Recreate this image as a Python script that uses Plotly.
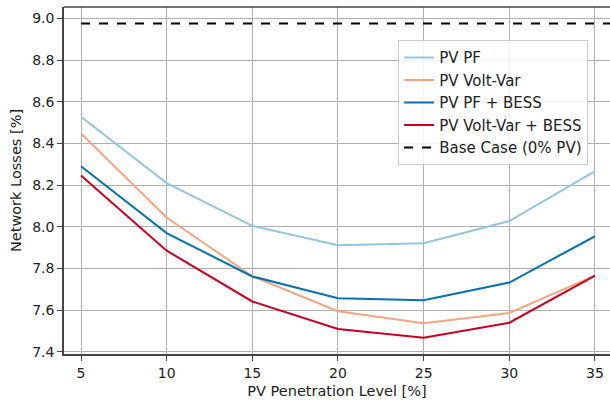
import plotly.graph_objects as go

x_levels = [5, 10, 15, 20, 25, 30, 35]
pv_pf = [8.528, 8.210, 8.005, 7.912, 7.922, 8.028, 8.268]
pv_vv = [8.448, 8.045, 7.763, 7.595, 7.537, 7.587, 7.766]
pv_pf_bess = [8.291, 7.970, 7.762, 7.658, 7.648, 7.733, 7.955]
pv_vv_bess = [8.246, 7.886, 7.642, 7.510, 7.468, 7.540, 7.766]
base_x = [5, 36.5]
base_case = [8.976, 8.976]

names = ["PV PF", "PV Volt-Var", "PV PF + BESS", "PV Volt-Var + BESS"]
colors = ["#92c5de", "#f4a582", "#0571b0", "#ca0020"]
series = [pv_pf, pv_vv, pv_pf_bess, pv_vv_bess]

fig = go.Figure()
for n, c, s in zip(names, colors, series):
    fig.add_trace(go.Scatter(x=x_levels, y=s, mode="lines", name=n,
                             line=dict(color=c, width=2)))
fig.add_trace(go.Scatter(x=base_x, y=base_case, mode="lines", name="Base Case (0% PV)",
                         line=dict(color="black", width=2, dash="dash")))

font = "DejaVu Sans, sans-serif"
fig.update_layout(
    width=610, height=400,
    margin=dict(l=64, r=0, t=7, b=46),
    paper_bgcolor="white", plot_bgcolor="white",
    font=dict(family=font, size=14, color="#222"),
    showlegend=True,
    legend=dict(x=0.612, y=0.904, xanchor="left", yanchor="top",
                bgcolor="rgba(255,255,255,0.85)", bordercolor="#cccccc", borderwidth=1,
                font=dict(family=font, size=15, color="#222"),
                tracegroupgap=0, itemwidth=30),
    xaxis=dict(range=[4.008, 35.876], tickvals=x_levels, showgrid=True,
               gridcolor="#b0b0b0", gridwidth=1, zeroline=False,
               showline=True, linecolor="#444", linewidth=1.5,
               ticks="outside", ticklen=5, tickcolor="#444",
               tickfont=dict(family=font, size=14),
               title=dict(text="PV Penetration Level [%]", standoff=6,
                          font=dict(family=font, size=14.5))),
    yaxis=dict(range=[7.39, 9.055], tickvals=[7.4, 7.6, 7.8, 8.0, 8.2, 8.4, 8.6, 8.8, 9.0],
               tickformat=".1f", showgrid=True, gridcolor="#b0b0b0", gridwidth=1,
               zeroline=False, showline=True, linecolor="#444", linewidth=1.5,
               ticks="outside", ticklen=5, tickcolor="#444",
               tickfont=dict(family=font, size=14),
               title=dict(text="Network Losses [%]", standoff=7,
                          font=dict(family=font, size=14.5))),
    shapes=[dict(type="line", xref="paper", yref="paper", x0=0, x1=1, y0=1, y1=1,
                 line=dict(color="#444", width=1.5))],
)
fig.write_html("out.html")
